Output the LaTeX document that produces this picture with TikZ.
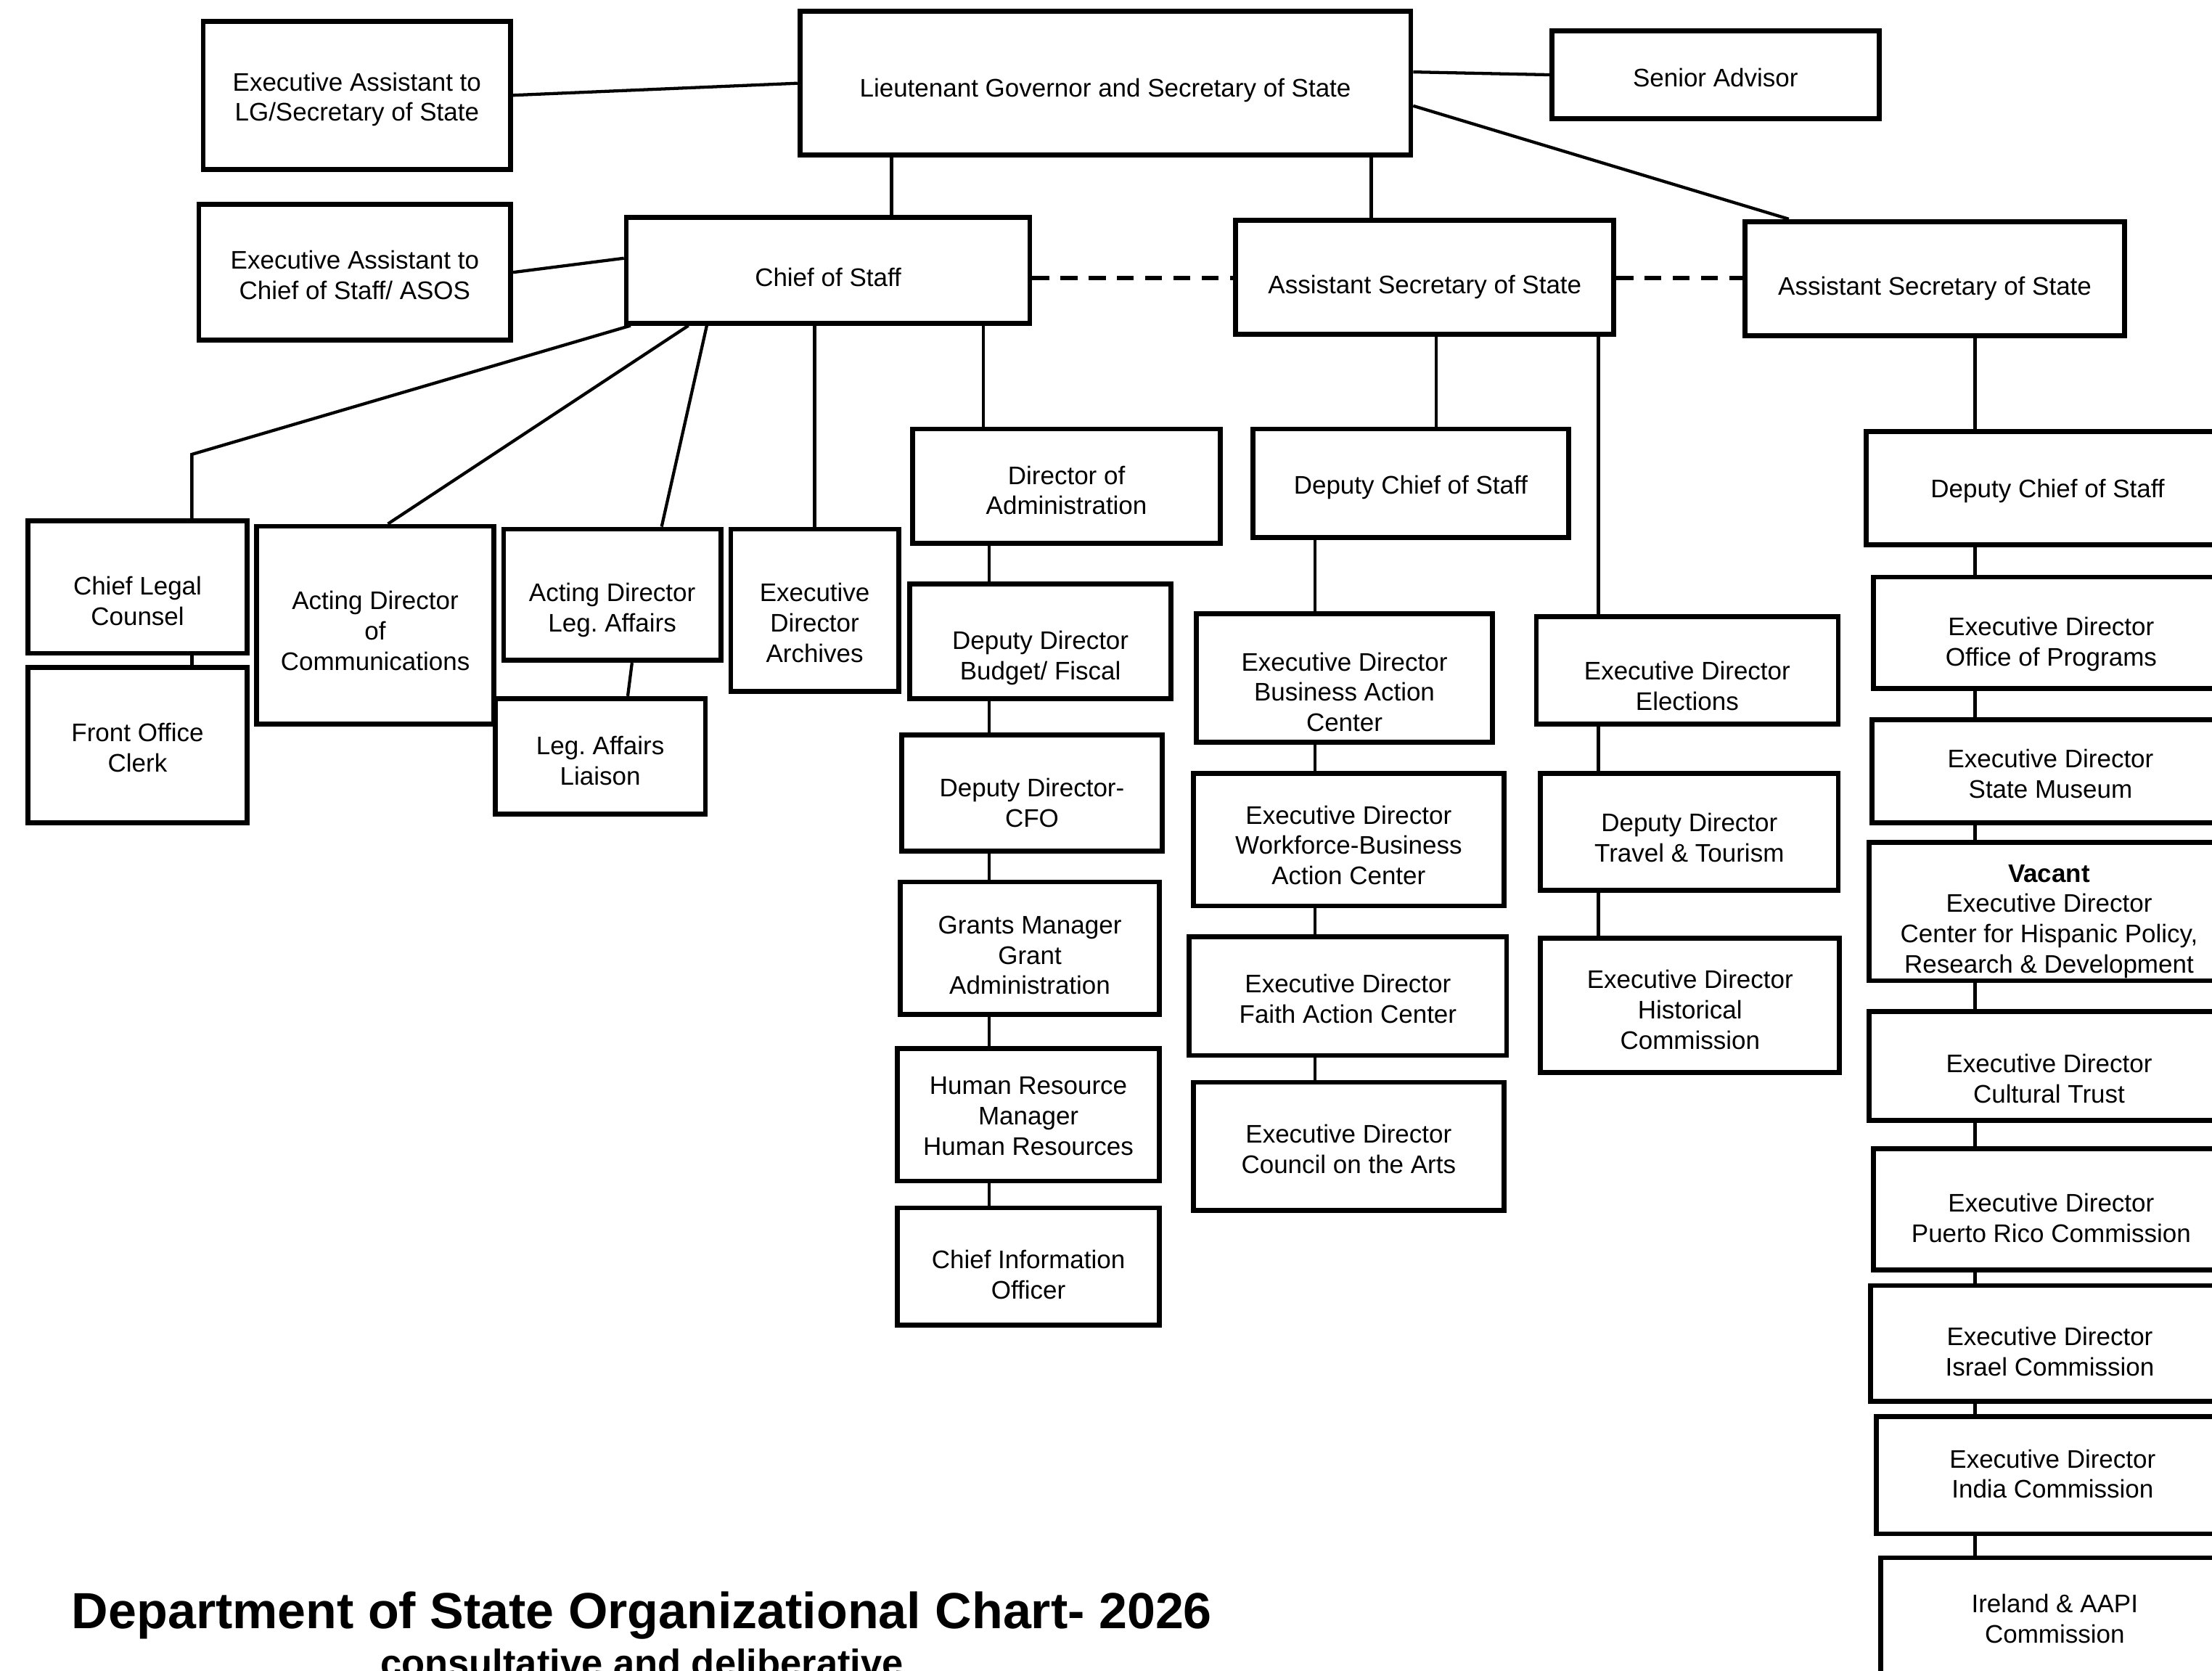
\documentclass[tikz,border=0pt]{standalone}
\usepackage{fontspec}
\setmainfont{Liberation Sans}
\usetikzlibrary{calc}
\frenchspacing

\tikzset{
  office/.style={draw, line width=3.5pt, fill=white, inner sep=0pt},
  officetext/.style={align=center, inner sep=0pt, font=\fontsize{18}{21.5}\selectfont},
  link/.style={line width=2.2pt},
  peer/.style={line width=3pt, dash pattern=on 12pt off 8pt}
}

\begin{document}
\begin{tikzpicture}[x=1pt,y=-1pt]
		\newcommand{\orgbox}[7]{ % #1: name, #2: left, #3: top, #4: right, #5: bottom, #6: title, #7: text drop
			\node[office, minimum width={#4-#2}, minimum height={#5-#3}] (#1) at ({(#2+#4)/2},{(#3+#5)/2}) {};
			\node[officetext] (#1-t) at ([yshift=-#7pt]#1.center) {#6};
		}
		\useasboundingbox (0,0) rectangle (1568,1184);
		\fill[white] (0,0) rectangle (1568,1184);
		\clip (0,0) rectangle (1568,1184);
		
		%top level
		\orgbox{lg}{567}{8}{1000}{110}{Lieutenant Governor and Secretary of State}{5}
		\orgbox{adv}{1100}{22}{1332}{84}{Senior Advisor}{2}
		\orgbox{ealg}{144}{15}{362}{120}{Executive Assistant to\\LG/Secretary of State}{3}
		\orgbox{eacos}{141}{145}{362}{241}{Executive Assistant to\\Chief of Staff/ ASOS}{2}
		\orgbox{cos}{444}{154}{730}{229}{Chief of Staff}{5}
		\orgbox{asosa}{876}{156}{1144}{237}{Assistant Secretary of State}{7}
		\orgbox{asosb}{1237}{157}{1506}{238}{Assistant Secretary of State}{7}
		
		%chief of staff
		\orgbox{legal}{20}{369}{175}{463}{Chief Legal\\Counsel}{10}
		\orgbox{clerk}{20}{473}{175}{583}{Front Office\\Clerk}{2}
		\orgbox{comms}{182}{373}{350}{513}{Acting Director\\of\\Communications}{4}
		\orgbox{legdir}{357}{375}{511}{468}{Acting Director\\Leg. Affairs}{11}
		\orgbox{liaison}{351}{495}{500}{577}{Leg. Affairs\\Liaison}{3}
		\orgbox{archives}{518}{375}{637}{490}{Executive\\Director\\Archives}{9}
		
		%administration
		\orgbox{admin}{647}{304}{865}{385}{Director of\\Administration}{3}
		\orgbox{budget}{645}{414}{830}{495}{Deputy Director\\Budget/ Fiscal}{12}
		\orgbox{cfo}{639}{521}{824}{603}{Deputy Director-\\CFO}{7}
		\orgbox{grants}{638}{625}{822}{719}{Grants Manager\\Grant\\Administration}{5}
		\orgbox{hr}{636}{743}{822}{837}{Human Resource\\Manager\\Human Resources}{1}
		\orgbox{cio}{636}{856}{822}{939}{Chief Information\\Officer}{6}
		
		%first assistant secretary
		\orgbox{dcosa}{888}{304}{1112}{381}{Deputy Chief of Staff}{3}
		\orgbox{bac}{848}{435}{1058}{526}{Executive Director\\Business Action\\Center}{10}
		\orgbox{wbac}{846}{548}{1066}{642}{Executive Director\\Workforce-Business\\Action Center}{4}
		\orgbox{faith}{843}{664}{1068}{748}{Executive Director\\Faith Action Center}{2}
		\orgbox{arts}{846}{767}{1066}{858}{Executive Director\\Council on the Arts}{2}
		\orgbox{elect}{1089}{437}{1303}{513}{Executive Director\\Elections}{11}
		\orgbox{travel}{1092}{548}{1303}{631}{Deputy Director\\Travel \& Tourism}{4}
		\orgbox{hist}{1092}{665}{1304}{760}{Executive Director\\Historical\\Commission}{3}
		
		%second assistant secretary
		\orgbox{dcosb}{1323}{306}{1580}{386}{Deputy Chief of Staff}{2}
		\orgbox{prog}{1328}{409}{1580}{488}{Executive Director\\Office of Programs}{8}
		\orgbox{museum}{1327}{510}{1580}{583}{Executive Director\\State Museum}{2}
		\orgbox{hisp}{1325}{597}{1580}{695}{\textbf{Vacant}\\Executive Director\\Center for Hispanic Policy,\\Research \& Development}{7}
		\orgbox{trust}{1325}{717}{1580}{794}{Executive Director\\Cultural Trust}{9}
		\orgbox{pr}{1328}{814}{1580}{900}{Executive Director\\Puerto Rico Commission}{6}
		\orgbox{israel}{1326}{911}{1580}{993}{Executive Director\\Israel Commission}{6}
		\orgbox{india}{1330}{1004}{1580}{1087}{Executive Director\\India Commission}{-1}
		\orgbox{ireland}{1333}{1104}{1580}{1196}{Ireland \& AAPI\\Commission}{-3}
		
		%lines from the top
		\draw[link] (ealg.east) -- (lg.west);
		\draw[link] (lg.east |- 0,51) -- (adv.west);
		\draw[link] (lg.east |- 0,75) -- (1268,0 |- asosb.north);
		\draw[link] (632,0 |- lg.south) -- (632,0 |- cos.north);
		\draw[link] (972,0 |- lg.south) -- (972,0 |- asosa.north);
		\draw[link] (eacos.east) -- (cos.west |- 0,183);
		\draw[peer] (cos.east |- 0,197) -- (asosa.west |- 0,197);
		\draw[peer] (asosa.east |- 0,197) -- (asosb.west |- 0,197);
		
		%chief of staff fan
		\draw[link] (447,0 |- cos.south) -- (136,322) -- (136,0 |- legal.north);
		\draw[link] (488,0 |- cos.south) -- (275,0 |- comms.north);
		\draw[link] (501,0 |- cos.south) -- (469,0 |- legdir.north);
		\draw[link] (archives.north |- cos.south) -- (archives.north);
		\draw[link] (697,0 |- cos.south) -- (697,0 |- admin.north);
		\draw[link] (136,0 |- legal.south) -- (136,0 |- clerk.north);
		\draw[link] (448,0 |- legdir.south) -- (445,0 |- liaison.north);
		
		%columns
		\foreach \boss/\staff in {admin/budget, budget/cfo, cfo/grants, grants/hr, hr/cio}
			\draw[link] (701,0 |- \boss.south) -- (701,0 |- \staff.north);
		\draw[link] (1018,0 |- asosa.south) -- (1018,0 |- dcosa.north);
		\foreach \boss/\staff in {dcosa/bac, bac/wbac, wbac/faith, faith/arts}
			\draw[link] (932,0 |- \boss.south) -- (932,0 |- \staff.north);
		\draw[link] (1133,0 |- asosa.south) -- (1133,0 |- elect.north);
		\foreach \boss/\staff in {elect/travel, travel/hist}
			\draw[link] (1133,0 |- \boss.south) -- (1133,0 |- \staff.north);
		\draw[link] (1400,0 |- asosb.south) -- (1400,0 |- dcosb.north);
		\foreach \boss/\staff in {dcosb/prog, prog/museum, museum/hisp, hisp/trust, trust/pr, pr/israel, israel/india, india/ireland}
			\draw[link] (1400,0 |- \boss.south) -- (1400,0 |- \staff.north);
		
		%title
		\node[anchor=base, font=\bfseries\fontsize{36}{40}\selectfont] (title) at (455,1154) {Department of State Organizational Chart- 2026};
		\node[anchor=base, font=\bfseries\fontsize{27}{30}\selectfont] (subtitle) at (455,1188) {consultative and deliberative};
		
	\end{tikzpicture}
\end{document}
